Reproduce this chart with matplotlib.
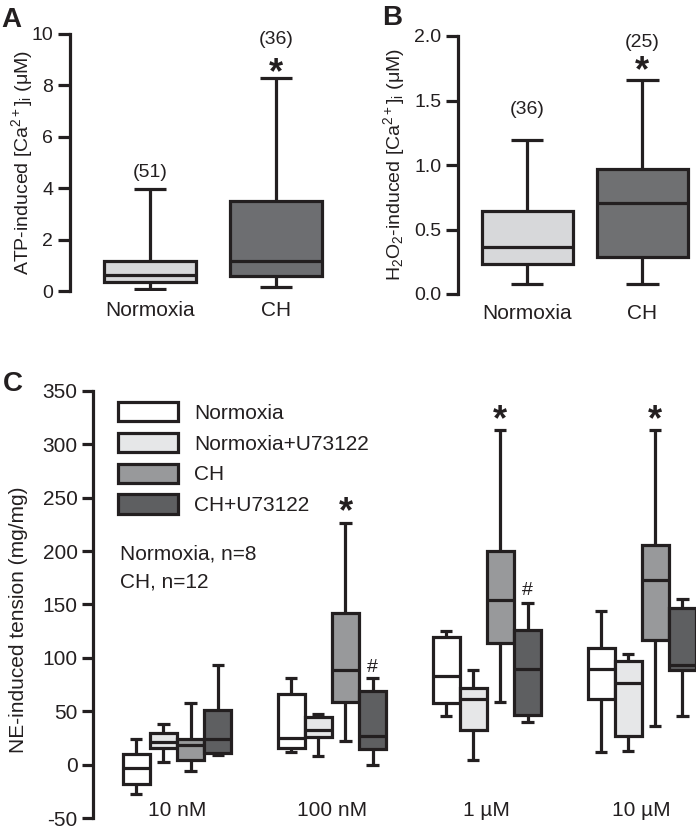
import numpy as np
import matplotlib.pyplot as plt
from matplotlib.patches import Patch

plt.rcParams['font.family'] = ['Liberation Sans', 'DejaVu Sans']
plt.rcParams['mathtext.fontset'] = 'custom'
plt.rcParams['mathtext.rm'] = 'Liberation Sans'
plt.rcParams['mathtext.it'] = 'Liberation Sans:italic'
plt.rcParams['axes.unicode_minus'] = False

INK = '#231f20'
LW = 2.3

# ---- Panel A: ATP-induced [Ca2+]i ----
a_groups = ['Normoxia', 'CH']
a_n = ['(51)', '(36)']
a_whislo = [0.07, 0.15]
a_q1 = [0.36, 0.58]
a_med = [0.62, 1.17]
a_q3 = [1.17, 3.51]
a_whishi = [3.96, 8.27]
a_colors = ['#d7d8da', '#6d6e71']

# ---- Panel B: H2O2-induced [Ca2+]i ----
b_groups = ['Normoxia', 'CH']
b_n = ['(36)', '(25)']
b_whislo = [0.075, 0.075]
b_q1 = [0.23, 0.287]
b_med = [0.365, 0.708]
b_q3 = [0.64, 0.967]
b_whishi = [1.19, 1.66]
b_colors = ['#d7d8da', '#6f7072']

# ---- Panel C: NE-induced tension ----
conc_labels = ['10 nM', '100 nM', '1 µM', '10 µM']
series = ['Normoxia', 'Normoxia+U73122', 'CH', 'CH+U73122']
c_colors = ['#ffffff', '#e6e7e8', '#98999b', '#5e5f61']
c_whislo = [[-27, 12, 46, 12], [3, 8, 5, 13], [-6, 22, 59, 36], [9, 0, 40, 46]]
c_q1 = [[-18, 16, 58, 62], [16, 26, 33, 27], [5, 59, 114, 117], [11, 15, 47, 89]]
c_med = [[-3, 25, 83, 90], [21, 33, 62, 77], [19, 89, 154, 173], [24, 27, 90, 93]]
c_q3 = [[10, 66, 120, 109], [30, 45, 72, 97], [24, 142, 200, 206], [51, 69, 126, 147]]
c_whishi = [[24, 81, 125, 144], [38, 48, 89, 104], [58, 226, 313, 313], [93, 81, 151, 155]]
star_pos = [(1, 236), (2, 322), (3, 322)]
hash_pos = [(1, 91), (2, 163)]

W, H = 696, 835
fig = plt.figure(figsize=(W / 100, H / 100), dpi=100)


def px_axes(left, top, right, bottom):
    return fig.add_axes([left / W, (H - bottom) / H, (right - left) / W, (bottom - top) / H])


def style(ax, ticklen):
    for s in ['top', 'right', 'bottom']:
        ax.spines[s].set_visible(False)
    ax.spines['left'].set_linewidth(LW)
    ax.spines['left'].set_color(INK)
    ax.tick_params(axis='y', length=ticklen, width=LW, color=INK, pad=3, labelcolor=INK)
    ax.tick_params(axis='x', length=0, pad=7, labelcolor=INK, labelsize=15)
    ax.patch.set_alpha(0)


def boxes(ax, pos, lo, q1, med, q3, hi, colors, width, capw):
    stats = [dict(whislo=lo[i], q1=q1[i], med=med[i], q3=q3[i], whishi=hi[i], fliers=[])
             for i in range(len(pos))]
    lp = dict(color=INK, linewidth=LW, solid_capstyle='butt')
    bp = ax.bxp(stats, positions=pos, widths=width, capwidths=capw, patch_artist=True,
                showfliers=False, boxprops=dict(edgecolor=INK, linewidth=LW),
                medianprops=lp, whiskerprops=lp, capprops=lp, manage_ticks=False)
    for b, c in zip(bp['boxes'], colors):
        b.set_facecolor(c)
        b.set_zorder(3)
    for m in bp['medians']:
        m.set_zorder(4)


# Panel A
axA = px_axes(70, 34, 340, 291)
boxes(axA, [0, 1], a_whislo, a_q1, a_med, a_q3, a_whishi, a_colors, 0.73, 0.26)
axA.set_xlim(-0.635, 1.508)
axA.set_ylim(0, 10)
axA.set_yticks(np.arange(0, 11, 2))
axA.set_xticks([0, 1])
axA.set_xticklabels(a_groups)
style(axA, 9)
axA.tick_params(axis='y', labelsize=14)
axA.text(0, 4.6, a_n[0], ha='center', va='center', fontsize=14, color=INK)
axA.text(1, 9.77, a_n[1], ha='center', va='center', fontsize=14, color=INK, clip_on=False)
axA.text(1, 8.45, '*', ha='center', va='center', fontsize=26, fontweight='bold', color=INK)
fig.text(22 / W, 1 - 162 / H, 'ATP-induced [Ca$^{2+}$]$_\\mathrm{i}$ (μM)', rotation=90,
         ha='center', va='center', fontsize=14, color=INK)

# Panel B
axB = px_axes(458, 36, 692, 294)
boxes(axB, [0, 1], b_whislo, b_q1, b_med, b_q3, b_whishi, b_colors, 0.79, 0.28)
axB.set_xlim(-0.6, 1.43)
axB.set_ylim(0, 2.0)
axB.set_yticks(np.arange(0, 2.01, 0.5))
axB.set_yticklabels(['%.1f' % v for v in np.arange(0, 2.01, 0.5)])
axB.set_xticks([0, 1])
axB.set_xticklabels(b_groups)
style(axB, 9)
axB.tick_params(axis='y', labelsize=14)
axB.text(0, 1.43, b_n[0], ha='center', va='center', fontsize=14, color=INK)
axB.text(1, 1.95, b_n[1], ha='center', va='center', fontsize=14, color=INK, clip_on=False)
axB.text(1, 1.72, '*', ha='center', va='center', fontsize=26, fontweight='bold', color=INK)
fig.text(394 / W, 1 - 165 / H, 'H$_2$O$_2$-induced [Ca$^{2+}$]$_\\mathrm{i}$ (μM)', rotation=90,
         ha='center', va='center', fontsize=14, color=INK)

# Panel C
axC = px_axes(93, 390.7, 696, 818.3)
bw = 0.175
for k in range(4):
    pos = [g + (k - 1.5) * bw for g in range(4)]
    boxes(axC, pos, c_whislo[k], c_q1[k], c_med[k], c_q3[k], c_whishi[k],
          [c_colors[k]] * 4, bw, bw * 0.45)
axC.set_xlim(-0.542, 3.35)
axC.set_ylim(-50, 350)
axC.set_yticks(np.arange(-50, 351, 50))
axC.set_xticks([])
style(axC, 8)
axC.tick_params(axis='y', labelsize=15)
for g, lab in enumerate(conc_labels):
    axC.text(g, -43, lab, ha='center', va='center', fontsize=15, color=INK)
for g, y in star_pos:
    axC.text(g + 0.5 * bw, y, '*', ha='center', va='center', fontsize=26,
             fontweight='bold', color=INK)
for g, y in hash_pos:
    axC.text(g + 1.5 * bw, y, '#', ha='center', va='center', fontsize=14, color=INK)
note_x = -0.542 + (120 - 93) / 155
axC.text(note_x, 197, 'Normoxia, n=8', ha='left', va='center', fontsize=15, color=INK)
axC.text(note_x, 171, 'CH, n=12', ha='left', va='center', fontsize=15, color=INK)
handles = [Patch(facecolor=c, edgecolor=INK, linewidth=LW) for c in c_colors]
axC.legend(handles, series, loc='upper left', bbox_to_anchor=(118 / W, 1 - 402 / H),
           bbox_transform=fig.transFigure, frameon=False, fontsize=15, borderpad=0,
           borderaxespad=0, handlelength=2.9, handleheight=1.05, labelspacing=0.48,
           handletextpad=0.75, labelcolor=INK)
fig.text(19 / W, 1 - 620 / H, 'NE-induced tension (mg/mg)', rotation=90,
         ha='center', va='center', fontsize=15, color=INK)

# panel letters
for lab, x, y in [('A', 1, 20), ('B', 382, 18), ('C', 3, 384)]:
    fig.text(x / W, 1 - y / H, lab, ha='left', va='center', fontsize=20,
             fontweight='bold', color=INK)

fig.savefig('out.png', dpi=100)
